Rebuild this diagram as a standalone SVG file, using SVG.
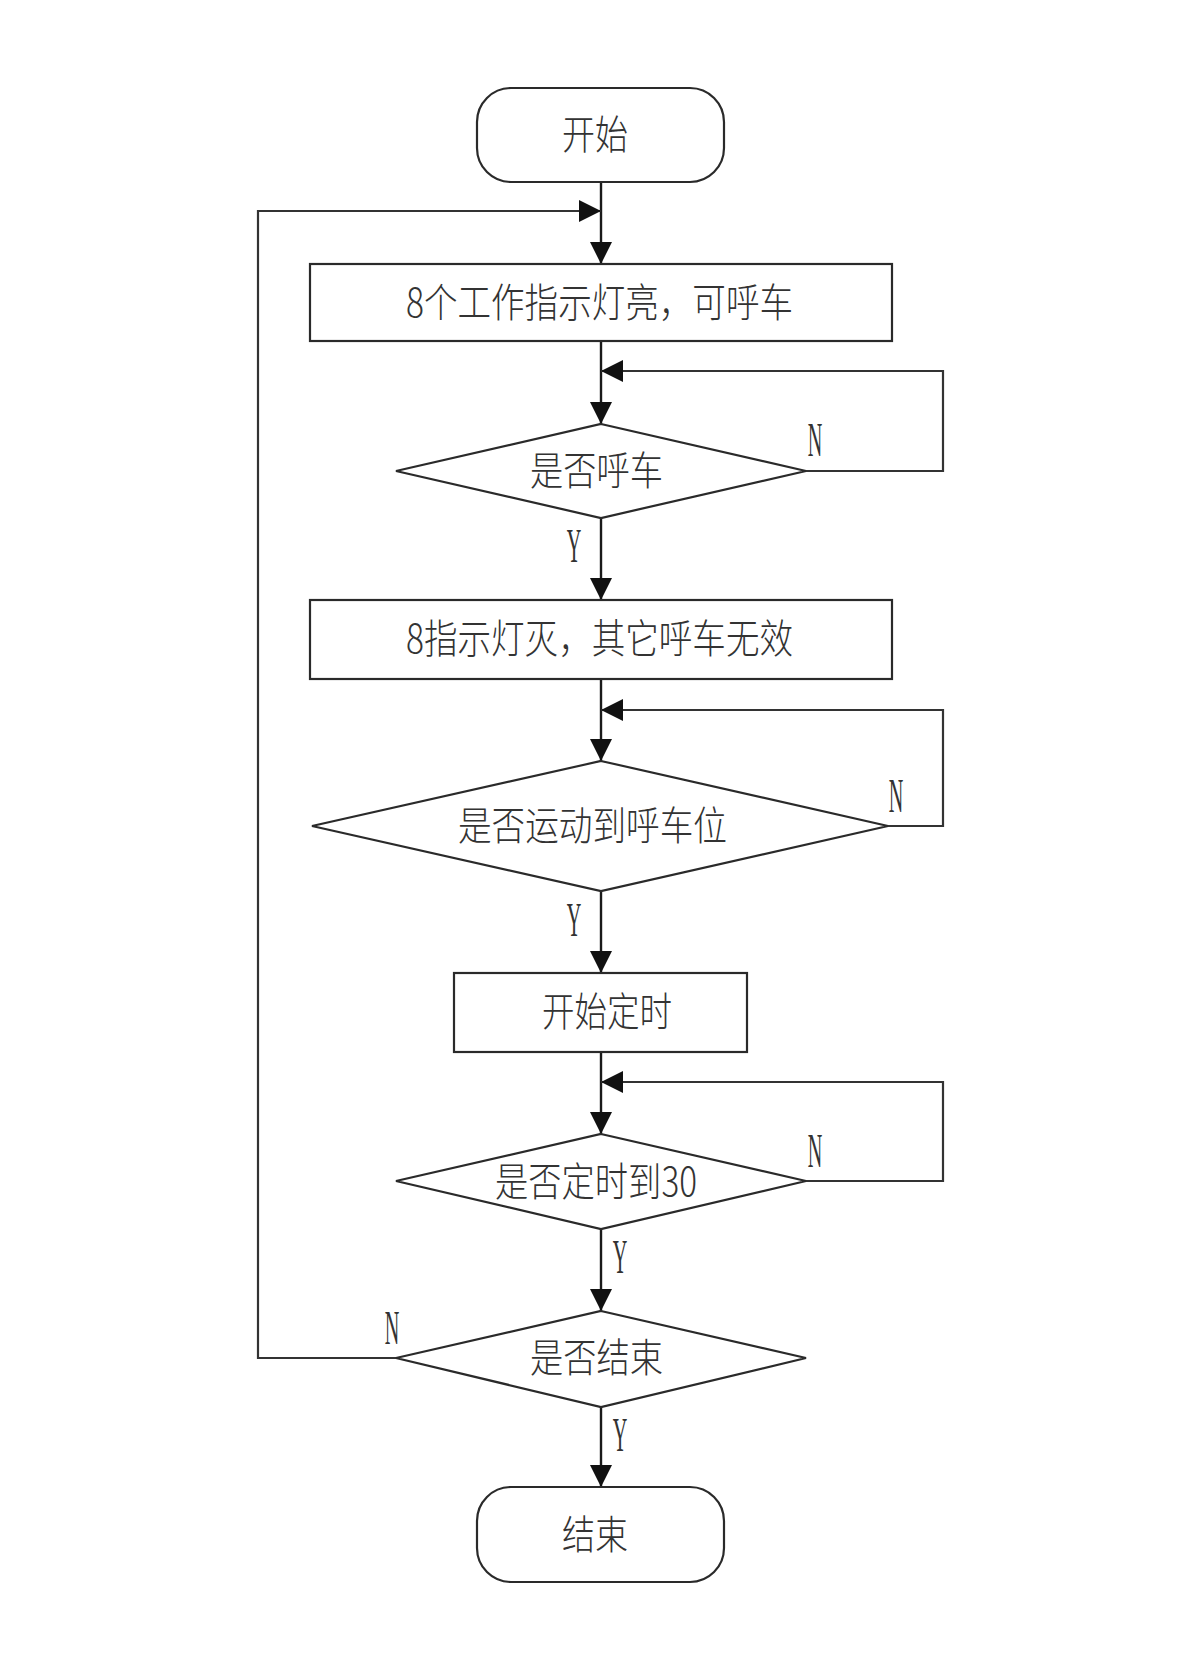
<svg xmlns="http://www.w3.org/2000/svg" width="1199" height="1663" viewBox="0 0 1199 1663">
<defs>
<style>
.shape{fill:#fff;stroke:#2a2a2a;stroke-width:2.2}
.ln{fill:none;stroke:#1a1a1a;stroke-width:2.4}
.lp{fill:none;stroke:#333;stroke-width:2.2}
.t{font-family:"Noto Sans CJK SC","Liberation Serif",serif;font-size:40px;font-weight:300;fill:#333}
.yn{font-family:"Liberation Serif",serif;font-size:48px;fill:#333;text-anchor:middle}
</style>
<marker id="ah" markerUnits="userSpaceOnUse" markerWidth="22" markerHeight="22" viewBox="0 0 22 22" refX="22" refY="11" orient="auto">
<path d="M0,0 L22,11 L0,22 Z" fill="#111"/>
</marker>
</defs>
<rect width="1199" height="1663" fill="#fff"/>

<g id="connectors">
<line class="ln" x1="601" y1="182" x2="601" y2="264" marker-end="url(#ah)"/>
<line class="ln" x1="601" y1="341" x2="601" y2="424" marker-end="url(#ah)"/>
<line class="ln" x1="601" y1="518" x2="601" y2="600" marker-end="url(#ah)"/>
<line class="ln" x1="601" y1="679" x2="601" y2="761" marker-end="url(#ah)"/>
<line class="ln" x1="601" y1="891" x2="601" y2="973" marker-end="url(#ah)"/>
<line class="ln" x1="601" y1="1052" x2="601" y2="1134" marker-end="url(#ah)"/>
<line class="ln" x1="601" y1="1229" x2="601" y2="1311" marker-end="url(#ah)"/>
<line class="ln" x1="601" y1="1407" x2="601" y2="1487" marker-end="url(#ah)"/>
<polyline class="lp" points="806,471 943,471 943,371 601,371" marker-end="url(#ah)"/>
<polyline class="lp" points="888,826 943,826 943,710 601,710" marker-end="url(#ah)"/>
<polyline class="lp" points="806,1181 943,1181 943,1082 601,1082" marker-end="url(#ah)"/>
<polyline class="lp" points="396,1358 258,1358 258,211 601,211" marker-end="url(#ah)"/>
<text class="yn" transform="translate(815,456) scale(0.42,1)">N</text>
<text class="yn" transform="translate(574,562) scale(0.42,1)">Y</text>
<text class="yn" transform="translate(896,812) scale(0.42,1)">N</text>
<text class="yn" transform="translate(574,936) scale(0.42,1)">Y</text>
<text class="yn" transform="translate(815,1167) scale(0.42,1)">N</text>
<text class="yn" transform="translate(620,1273) scale(0.42,1)">Y</text>
<text class="yn" transform="translate(392,1344) scale(0.42,1)">N</text>
<text class="yn" transform="translate(620,1451) scale(0.42,1)">Y</text>
</g>

<g id="start">
<rect class="shape" x="477" y="88" width="247" height="94" rx="34" ry="34"/>
<text class="t" x="562" y="149" textLength="66" lengthAdjust="spacingAndGlyphs">开始</text>
</g>
<g id="box1">
<rect class="shape" x="310" y="264" width="582" height="77"/>
<text class="t" x="406" y="317" textLength="387" lengthAdjust="spacingAndGlyphs">8个工作指示灯亮，可呼车</text>
</g>
<g id="dec1">
<polygon class="shape" points="601,424 806,471 601,518 396,471"/>
<text class="t" x="530" y="485" textLength="133" lengthAdjust="spacingAndGlyphs">是否呼车</text>
</g>
<g id="box2">
<rect class="shape" x="310" y="600" width="582" height="79"/>
<text class="t" x="406" y="653" textLength="387" lengthAdjust="spacingAndGlyphs">8指示灯灭，其它呼车无效</text>
</g>
<g id="dec2">
<polygon class="shape" points="601,761 888,826 601,891 312,826"/>
<text class="t" x="458" y="840" textLength="269" lengthAdjust="spacingAndGlyphs">是否运动到呼车位</text>
</g>
<g id="box3">
<rect class="shape" x="454" y="973" width="293" height="79"/>
<text class="t" x="542" y="1026" textLength="130" lengthAdjust="spacingAndGlyphs">开始定时</text>
</g>
<g id="dec3">
<polygon class="shape" points="601,1134 806,1181 601,1229 396,1181"/>
<text class="t" x="495" y="1196" textLength="202" lengthAdjust="spacingAndGlyphs">是否定时到30</text>
</g>
<g id="dec4">
<polygon class="shape" points="601,1311 806,1358 601,1407 396,1358"/>
<text class="t" x="530" y="1372" textLength="133" lengthAdjust="spacingAndGlyphs">是否结束</text>
</g>
<g id="end">
<rect class="shape" x="477" y="1487" width="247" height="95" rx="34" ry="34"/>
<text class="t" x="562" y="1549" textLength="66" lengthAdjust="spacingAndGlyphs">结束</text>
</g>
</svg>
